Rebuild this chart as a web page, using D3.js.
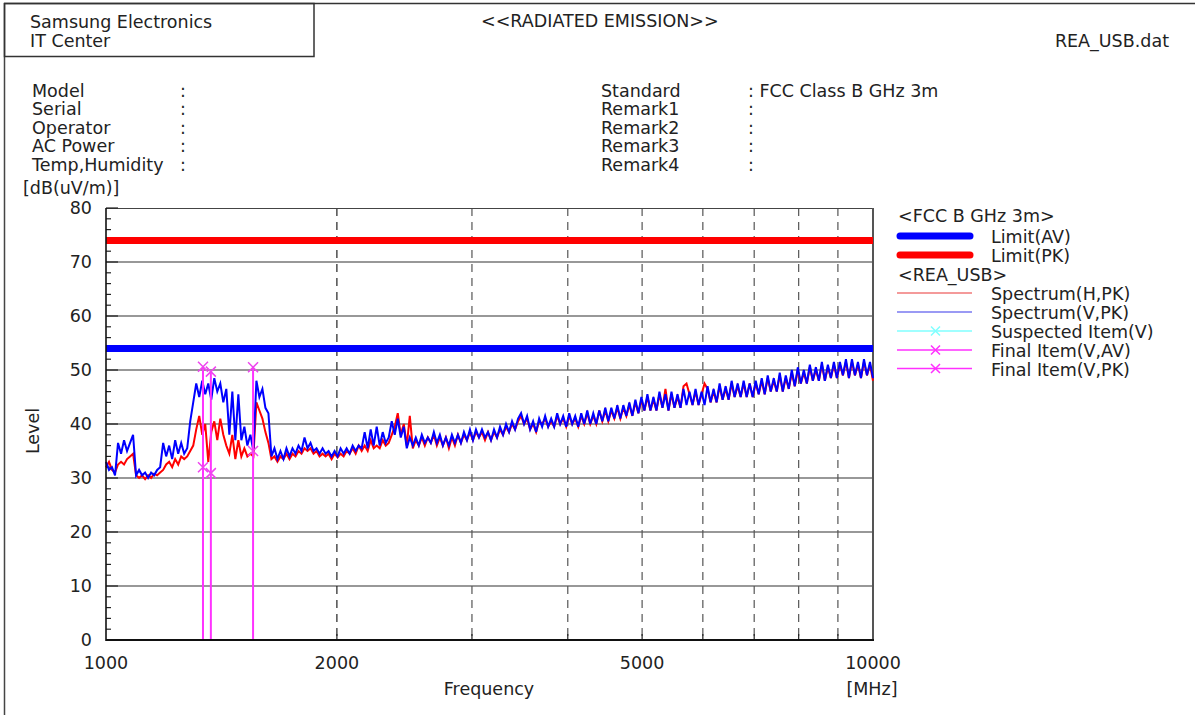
<!DOCTYPE html>
<html><head><meta charset="utf-8">
<script src="https://cdn.jsdelivr.net/npm/d3@7"></script>
<style>
html,body{margin:0;padding:0;background:#fff;}
svg{display:block;}
text{font-family:"DejaVu Sans",sans-serif;font-size:17.5px;fill:#222;}
</style></head>
<body>
<svg id="c" width="1195" height="715"></svg>
<script>
// ---------------- data ----------------
const sweepStartMHz = 1000, sweepStopMHz = 10000;
const yTicks = [0,10,20,30,40,50,60,70,80];
const xLabelTicks = [1000,2000,5000,10000];
const xGridTicks = [2000,3000,4000,5000,6000,7000,8000,9000];
const limitAV = 54, limitPK = 74;
// Spectrum (V,PK), log-spaced sweep points 1000..10000 MHz
const specV = [33,31.5,32,30.5,36.5,34.5,37,35,36.5,38,
30.5,31.5,30.5,31,30,31,30.5,31.5,32,36.5,
34,36,33.5,37,34.5,36.5,34.5,35.5,40.5,44,
47.5,45,48,45.5,47.5,44.5,48.5,46,47.5,44,
46.5,38,46,37,45.5,37,39.5,36,38,35,
48,45,46.5,43,42,34,35.5,33.5,35,33.5,
35.5,34,35.5,34.5,36,35,37.5,35.5,36.5,35,
35.5,34.5,35.5,34.5,35,34,35,34,35.5,34.5,
35.5,34.5,36,35,36,35.5,38.5,35.5,39,36,
39.5,36,38.5,36.5,37.5,40.5,38,41,37.5,39.5,
35.5,37.5,36,37.5,36,38,36.5,37.5,36.5,38.5,
36.5,38,36,37.5,36,38,36.5,38,36.5,38.5,
37,39,37,39,37.5,39,37.5,38.5,37,39,
37.5,39.5,38,40,38.5,40.5,39,41,42,40,
41.5,39,40.5,38.5,41,39.5,41.5,39.5,41,39.5,
42,40,41.5,39.5,42,40,41.5,39.5,42,40,
42.5,40,42,40,42.5,40.5,43,40.5,43,41,
43.5,41,43.5,41.5,44,41.5,44.5,42,45,42.5,
45.5,42.5,45,42.5,46,43,45.5,42.5,46,43,
45.5,43,46.5,43.5,46,43.5,46.5,43.5,46,43.5,
47,44,46.5,44,47.5,44.5,47,44.5,48,45,
47.5,45,48,45,47.5,45,48,45.5,48.5,45.5,
49,46,48.5,46,49.5,46,49,46.5,50,47,
50.5,47.5,50,47.5,51,48,50.5,48,51.5,48,
51,48.5,51.5,48.5,51.5,49,52,48.5,52,49,
51.5,48.5,52,49,51.5,48.5];
// Spectrum (H,PK)
const specH = [32,33,31.5,31,32.5,33,32.5,33.5,34,34.5,
30.5,30,30.5,29.8,30.5,30,30.8,30.5,31,31.5,
32.5,33,32,33.5,32.5,34,33.5,34,35,36,
39,41.5,38,40,33,38.5,40.5,37,41,38,
36,34.5,38,33.5,37,34,35.5,34,34.5,34,
44,42.5,41,38.5,36.5,33.5,34,33,34,33.5,
34.5,33.5,34.5,34,35,34.5,35.5,35,35.5,34.5,
35,34,34.5,34,34.5,33.5,34.5,33.8,34.5,34,
35,34.5,35.5,34.5,36,35,36,35,37,35.5,
36,35.5,37,36,36.5,38,39.5,42,38,40,
36,41.5,35.5,37,36,37.5,36,37.5,36.5,38,
36,37.5,36,37.5,35.5,37.5,36,38,36.5,38,
37,38.5,37,38.5,37.5,38.5,37,38.5,37,38.5,
37.5,39,38,39.5,38.5,40,39,40.5,41.5,40,
41,39,40,38.5,40.5,40,41,39.5,40.5,39.5,
41.5,40,41,39.5,41.5,40,41,39.5,41.5,40,
42,40,41.5,40,42.5,40.5,42.5,40.5,42.5,41,
43,41,43,41.5,43.5,41.5,44,42,44.5,42.5,
45,42.5,44.5,42.5,45.5,43,46.5,42.5,45.5,43,
45,43,47,47.5,45.5,43.5,46,43.5,45.5,47.5,
46.5,44,46,44,47,44.5,46.5,44.5,47.5,45,
47,45,47.5,45,47.5,45,47.5,45.5,48,45.5,
48.5,46,48,46,49,46,48.5,46.5,49.5,47,
50,47.5,49.5,47.5,50.5,48,50,48,51,48,
50.5,48.5,51,48.5,51,49,51.5,48.5,51.5,49,
51,48.5,51.5,49,51,48];
// Final items
const finalFreqs = [1338, 1370, 1555];
const finalPK = [50.6, 49.7, 50.5];
const finalAV = [32.0, 30.9, 35.0];
const infoLeft = ["Model","Serial","Operator","AC Power","Temp,Humidity"];
const infoRight = ["Standard","Remark1","Remark2","Remark3","Remark4"];
const infoRightVals = ["FCC Class B GHz 3m","","","",""];
const legendItems = [
  {label:"<FCC B GHz 3m>", type:"title"},
  {label:"Limit(AV)", type:"limit", color:"#0000ff"},
  {label:"Limit(PK)", type:"limit", color:"#ff0000"},
  {label:"<REA_USB>", type:"title"},
  {label:"Spectrum(H,PK)", type:"line", color:"#f07878"},
  {label:"Spectrum(V,PK)", type:"line", color:"#7878f0"},
  {label:"Suspected Item(V)", type:"mark", color:"#80ffff"},
  {label:"Final Item(V,AV)", type:"mark", color:"#ff30ff"},
  {label:"Final Item(V,PK)", type:"mark", color:"#ff30ff"}
];

// ---------------- drawing ----------------
const svg = d3.select("#c");
const x = d3.scaleLog().domain([sweepStartMHz, sweepStopMHz]).range([106, 873]);
const y = d3.scaleLinear().domain([0, 80]).range([640, 208]);

// frame
svg.append("line").attr("x1",4).attr("x2",1195).attr("y1",3.5).attr("y2",3.5).attr("stroke","#333").attr("stroke-width",1.5);
svg.append("line").attr("x1",4.5).attr("x2",4.5).attr("y1",3).attr("y2",715).attr("stroke","#444").attr("stroke-width",1.5);
svg.append("rect").attr("x",4.5).attr("y",3.5).attr("width",309.5).attr("height",53)
  .attr("fill","none").attr("stroke","#333").attr("stroke-width",1.5);

svg.append("text").attr("x",30).attr("y",27.5).text("Samsung Electronics");
svg.append("text").attr("x",30).attr("y",46.5).text("IT Center");
svg.append("text").attr("x",481).attr("y",27).text("<<RADIATED EMISSION>>");
svg.append("text").attr("x",1169).attr("y",46.5).attr("text-anchor","end").text("REA_USB.dat");

infoLeft.forEach((t,i)=>{
  const by = 96.5 + i*18.5;
  svg.append("text").attr("x",32).attr("y",by).text(t);
  svg.append("text").attr("x",180).attr("y",by).text(":");
});
infoRight.forEach((t,i)=>{
  const by = 96.5 + i*18.5;
  svg.append("text").attr("x",601).attr("y",by).text(t);
  svg.append("text").attr("x",748).attr("y",by).text(":" + (infoRightVals[i] ? " " + infoRightVals[i] : ""));
});
svg.append("text").attr("x",23).attr("y",193.5).text("[dB(uV/m)]");

// grid
const g = svg.append("g");
yTicks.filter(v=>v>0 && v<80).forEach(v=>{
  g.append("line").attr("x1",106).attr("x2",873).attr("y1",y(v)).attr("y2",y(v))
    .attr("stroke","#333").attr("stroke-width",1.2);
});
xGridTicks.forEach(f=>{
  g.append("line").attr("x1",x(f)).attr("x2",x(f)).attr("y1",208).attr("y2",640)
    .attr("stroke", f===2000 ? "#222" : "#555").attr("stroke-width",1.2).attr("stroke-dasharray","8,6");
});
// plot border
g.append("line").attr("x1",106).attr("x2",873).attr("y1",208.5).attr("y2",208.5).attr("stroke","#444").attr("stroke-width",1.2);
g.append("line").attr("x1",873).attr("x2",873).attr("y1",208).attr("y2",640).attr("stroke","#555").attr("stroke-width",2);
// minor ticks
d3.range(0,81,2).forEach(v=>{
  const len = (v%10===0) ? 12 : 5;
  g.append("line").attr("x1",106).attr("x2",106+len).attr("y1",y(v)).attr("y2",y(v)).attr("stroke","#222").attr("stroke-width",1.2);
});
xGridTicks.forEach(f=>{
  g.append("line").attr("x1",x(f)).attr("x2",x(f)).attr("y1",640).attr("y2",634).attr("stroke","#222").attr("stroke-width",1.2);
});

// axis labels
yTicks.forEach(v=>{
  svg.append("text").attr("x",92).attr("y",y(v)).attr("dy","0.36em").attr("text-anchor","end").text(v);
});
xLabelTicks.forEach(f=>{
  svg.append("text").attr("x",x(f)).attr("y",668.5).attr("text-anchor","middle").text(f);
});
svg.append("text").attr("x",489).attr("y",695).attr("text-anchor","middle").text("Frequency");
svg.append("text").attr("x",872).attr("y",695).attr("text-anchor","middle").text("[MHz]");
svg.append("text").attr("transform","translate(39,431) rotate(-90)").attr("text-anchor","middle").text("Level");

// limits
svg.append("line").attr("x1",x(1000)).attr("x2",x(10000)).attr("y1",y(limitPK)).attr("y2",y(limitPK)).attr("stroke","#ff0000").attr("stroke-width",7);
svg.append("line").attr("x1",x(1000)).attr("x2",x(10000)).attr("y1",y(limitAV)).attr("y2",y(limitAV)).attr("stroke","#0000ff").attr("stroke-width",7);

// spectra
const N = specV.length;
const sweep = d3.range(N).map(i => sweepStartMHz * Math.pow(sweepStopMHz/sweepStartMHz, i/(N-1)));
const line = d3.line().x(d=>x(d[0])).y(d=>y(d[1]));
svg.append("path").datum(sweep.map((f,i)=>[f,specH[i]])).attr("d",line)
  .attr("fill","none").attr("stroke","#ff0000").attr("stroke-width",2).attr("stroke-linejoin","miter");
svg.append("path").datum(sweep.map((f,i)=>[f,specV[i]])).attr("d",line)
  .attr("fill","none").attr("stroke","#0000ff").attr("stroke-width",2).attr("stroke-linejoin","miter");

// final items
function cross(sel, cx, cy, r, color){
  sel.append("path").attr("d",`M${cx-r},${cy-r}L${cx+r},${cy+r}M${cx-r},${cy+r}L${cx+r},${cy-r}`)
    .attr("stroke",color).attr("stroke-width",1.5).attr("fill","none");
}
finalFreqs.forEach((f,i)=>{
  svg.append("line").attr("x1",x(f)).attr("x2",x(f)).attr("y1",y(0)).attr("y2",y(finalPK[i]))
    .attr("stroke","#ff33ff").attr("stroke-width",2);
  cross(svg, x(f), y(finalPK[i]), 5, "#ee44ee");
  cross(svg, x(f), y(finalAV[i]), 5, "#ee44ee");
});
// bottom/left axis on top
svg.append("line").attr("x1",106).attr("x2",874).attr("y1",640).attr("y2",640).attr("stroke","#111").attr("stroke-width",2);
svg.append("line").attr("x1",106).attr("x2",106).attr("y1",208).attr("y2",641).attr("stroke","#111").attr("stroke-width",1.6);

// legend
const lg = svg.append("g");
const rowY = [216, 236, 255, 275, 293, 312, 331, 350, 368.5];
legendItems.forEach((it,i)=>{
  const cy = rowY[i];
  if (it.type==="title") {
    lg.append("text").attr("x",898).attr("y",cy).attr("dy","0.36em").text(it.label);
    return;
  }
  if (it.type==="limit") {
    lg.append("line").attr("x1",900).attr("x2",970).attr("y1",cy).attr("y2",cy)
      .attr("stroke",it.color).attr("stroke-width",7).attr("stroke-linecap","round");
  } else {
    lg.append("line").attr("x1",897).attr("x2",972).attr("y1",cy).attr("y2",cy)
      .attr("stroke",it.color).attr("stroke-width",1.5);
    if (it.type==="mark") cross(lg, 935.5, cy, 4.5, it.color);
  }
  lg.append("text").attr("x",991).attr("y",cy+1).attr("dy","0.36em").text(it.label);
});
</script>
</body></html>
